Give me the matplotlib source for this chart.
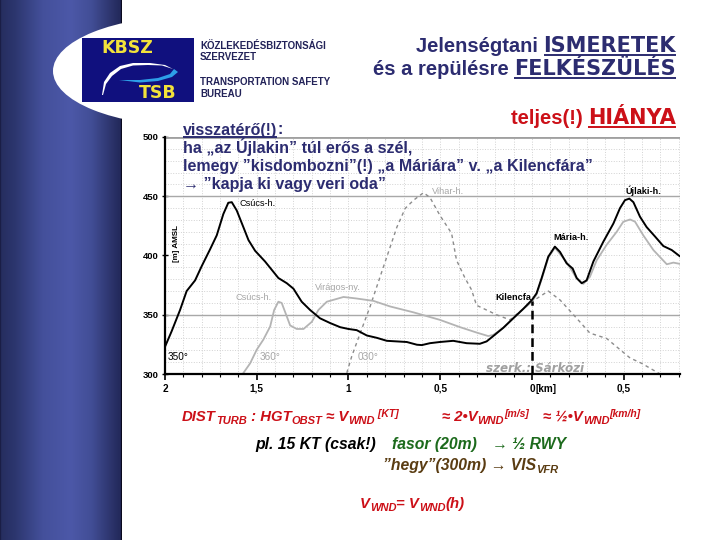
import numpy as np
import matplotlib
matplotlib.use("Agg")
import matplotlib.pyplot as plt
from matplotlib.patches import Ellipse, Rectangle, Polygon
from matplotlib.ticker import MultipleLocator, FixedLocator

# ---- data (distance km: positive left of 0, negative right of 0; height m AMSL)
black_km = [2.0,1.964,1.918,1.882,1.836,1.80,1.755,1.718,1.682,1.655,1.636,1.609,1.573,1.545,1.509,1.455,1.382,1.336,1.30,1.255,1.209,1.155,1.10,1.045,1.0,0.955,0.90,0.845,0.791,0.736,0.682,0.627,0.60,0.556,0.502,0.429,0.356,0.284,0.247,0.211,0.156,0.102,0.047,0,-0.025,-0.053,-0.089,-0.125,-0.153,-0.189,-0.222,-0.244,-0.271,-0.298,-0.335,-0.389,-0.444,-0.48,-0.507,-0.531,-0.553,-0.589,-0.625,-0.671,-0.716,-0.762,-0.804]
black_m = [323,336,354,370,379,391,405,417,435,444.5,445,438,424,413,404,395,381,376.6,372,361,354,347,343,339.5,338,337,332.5,330.5,328,327.5,327,324.7,324.4,326,327,328,326,325.5,327.5,332,339,347,355,362.5,368,381,399,407.5,403,393.4,389,381,376.6,379,395,411.6,427,440,446.7,448,445,432.7,424,416,408,404.6,399.6]
gray_km = [1.573,1.536,1.5,1.464,1.427,1.405,1.382,1.364,1.336,1.318,1.282,1.245,1.2,1.164,1.118,1.027,0.955,0.864,0.773,0.645,0.611,0.502,0.393,0.302,0.238,0.211,0.156,0.102,0.047,0,-0.025,-0.053,-0.089,-0.125,-0.189,-0.244,-0.280,-0.316,-0.353,-0.407,-0.462,-0.498,-0.535,-0.562,-0.607,-0.662,-0.735,-0.771,-0.804]
gray_m = [300.8,309,320.5,329,340,354,361,360,348.5,341,338,338,344,354,361,365,363.7,361.7,357,352,350.5,345.7,339.6,335,332,333,339,347,355,361,367,380,398,406.6,394.5,380.5,376,382,396,409,420,428.5,430.4,428.5,417,404.6,392.6,394,393]
dash_km = [1.009,0.982,0.936,0.882,0.809,0.736,0.691,0.645,0.591,0.556,0.502,0.438,0.411,0.365,0.329,0.302,0.193,0.12,0,-0.089,-0.153,-0.244,-0.316,-0.407,-0.535,-0.598,-0.698]
dash_m = [301,315,334.5,357,390.6,424,439.7,446.7,453,449,434,418.7,396,381,371,358,350,345.7,361,370,362.5,347,334.5,330,313.5,309,300]
kilencfa_km = [0, 0]
kilencfa_m = [300, 362]
y_ticks = [300, 350, 400, 450, 500]
solid_levels = [350, 450]
x_ticks = [2, 1.5, 1, 0.5, 0, -0.5]
x_labels = ["2", "1,5", "1", "0,5", "0", "0,5"]

NAVY = "#2c2c70"; RED = "#cc1018"; GREEN = "#1c6a1c"; BROWN = "#5a3c12"
W, H = 720, 540
fig = plt.figure(figsize=(7.2, 5.4), dpi=100, facecolor="white")
plt.rcParams['font.family'] = ['Liberation Sans', 'DejaVu Sans']

# ---- background layer in pixel coordinates
bg = fig.add_axes([0, 0, 1, 1], zorder=0)
bg.set_xlim(0, W); bg.set_ylim(H, 0); bg.axis("off")
t = np.linspace(0, 1, 122)
stops_x = [0, 0.01, 0.12, 0.35, 0.58, 0.75, 0.98, 0.99, 1]
r = np.interp(t, stops_x, [26, 38, 44, 68, 76, 66, 36, 36, 10])
g = np.interp(t, stops_x, [30, 46, 54, 80, 88, 78, 42, 42, 10])
b = np.interp(t, stops_x, [70, 96, 110, 155, 168, 150, 92, 92, 30])
grad = np.stack([r, g, b], axis=1)[None, :, :] / 255
bg.imshow(grad, extent=(0, 122, H, 0), aspect="auto", zorder=1)
bg.set_xlim(0, W); bg.set_ylim(H, 0)
bg.add_patch(Ellipse((190, 71), 274, 110, fc="white", ec="none", zorder=2))
bg.add_patch(Rectangle((82, 38), 112, 64, fc="#10107e", ec="none", zorder=3))
bg.add_patch(Polygon([(102, 95), (104, 82), (110, 73), (120, 66), (133, 63), (150, 63), (165, 65), (173, 69), (162, 65.5), (148, 65), (133, 65.5), (121, 69), (112, 76), (106, 84), (103, 95)], fc="white", ec="none", zorder=4))
bg.add_patch(Polygon([(119, 80), (140, 80), (158, 78), (170, 74), (174, 69), (178, 72), (172, 77), (158, 81), (140, 82.5)], fc="#2d9fe8", ec="none", zorder=4))
bg.text(127, 48, "KBSZ", color="#f2e23a", fontsize=12.5, fontweight="bold", family="DejaVu Sans", ha="center", va="center", zorder=5)
bg.text(158, 93, "TSB", color="#f2e23a", fontsize=12.5, fontweight="bold", family="DejaVu Sans", ha="center", va="center", zorder=5)
for yy, s in [(46, "KÖZLEKEDÉSBIZTONSÁGI"), (57, "SZERVEZET"), (82, "TRANSPORTATION SAFETY"), (94, "BUREAU")]:
    bg.text(200, yy, s, color="#222258", fontsize=7.0, fontweight="bold", va="center", zorder=5)

# ---- chart
ax = fig.add_axes([165/W, 1-374/H, (680-165)/W, (374-137)/H], zorder=1)
ax.patch.set_alpha(0)
ax.set_xlim(2, -0.807); ax.set_ylim(300, 500)
ax.xaxis.set_major_locator(FixedLocator(x_ticks)); ax.set_xticklabels(x_labels)
ax.xaxis.set_minor_locator(MultipleLocator(0.1))
ax.yaxis.set_major_locator(FixedLocator(y_ticks))
ax.yaxis.set_minor_locator(MultipleLocator(10))
ax.grid(which="minor", color="#d2d2d2", ls=":", lw=0.7)
ax.grid(which="major", color="#d2d2d2", ls=":", lw=0.7)
ax.hlines(solid_levels, 2, -0.807, color="#a8a8a8", lw=1.0)
ax.set_axisbelow(True)
for s in ("top", "right"):
    ax.spines[s].set_visible(False)
ax.spines["left"].set_linewidth(1.6); ax.spines["bottom"].set_linewidth(1.6)
ax.axhline(500, color="#a0a0a0", lw=2)
ax.tick_params(axis="y", which="major", length=5, width=1.0, direction="inout", labelsize=6.8, pad=2)
ax.tick_params(axis="x", which="major", length=4, width=1.2, labelsize=7.2, pad=3)
ax.tick_params(axis="x", which="minor", length=2.5, width=0.8)
ax.tick_params(axis="y", which="minor", length=0)
for lab in ax.get_xticklabels() + ax.get_yticklabels():
    lab.set_fontweight("bold")
ax.plot(dash_km, dash_m, color="#8c8c8c", lw=1.0, ls=(0, (2.5, 2.5)))
ax.plot(gray_km, gray_m, color="#b4b4b4", lw=1.3)
ax.plot(black_km, black_m, color="black", lw=1.4)
ax.plot(kilencfa_km, kilencfa_m, color="black", lw=1.8, ls=(0, (3.5, 2)))

# ---- text layer in pixel coordinates
fg = fig.add_axes([0, 0, 1, 1], zorder=2)
fg.set_xlim(0, W); fg.set_ylim(H, 0); fg.axis("off"); fg.patch.set_alpha(0)
rend = fig.canvas.get_renderer()

def runs(x, y, parts, align="left", **base):
    """Lay text runs along a baseline; parts = (text, options); options: dy, ul."""
    objs = []
    for s, o in parts:
        o = dict(o); dy = o.pop("dy", 0); ul = o.pop("ul", False)
        kw = {**base, **o}
        tx = fg.text(0, y + dy, s, va="baseline", ha="left", **kw)
        objs.append((tx, ul, kw.get("color", "k")))
    ws = [tx.get_window_extent(rend).width for tx, _, _ in objs]
    cur = x - sum(ws) if align == "right" else x
    for (tx, ul, c), w in zip(objs, ws):
        tx.set_x(cur)
        if ul:
            fg.plot([cur, cur + w], [y + 2.5, y + 2.5], color=c, lw=1.4, solid_capstyle="butt")
        cur += w
    return cur

caps = {"ul": True, "family": "DejaVu Sans", "fontsize": 15}
ttl = dict(fontsize=14.5, fontweight="bold")
runs(676, 52, [("Jelenségtani ", {}), ("ISMERETEK", caps)], align="right", color=NAVY, **ttl)
runs(676, 75, [("és a repülésre ", {}), ("FELKÉSZÜLÉS", caps)], align="right", color=NAVY, **ttl)
runs(676, 124, [("teljes(!) ", {}), ("HIÁNYA", caps)], align="right", color=RED, **ttl)

tk = dict(color=NAVY, fontsize=11.55, fontweight="bold")
runs(183, 134.5, [("visszatérő(!)", {"ul": True}), (":", {})], **tk)
runs(183, 153, [("ha „az Újlakin” túl erős a szél,", {})], **tk)
runs(183, 171.5, [("lemegy ”kisdombozni”(!) „a Máriára” v. „a Kilencfára”", {})], **tk)
runs(183, 189, [("→ ”kapja ki vagy veri oda”", {})], **tk)

lab = dict(fontsize=6.6, va="center", ha="left")
g1 = "#a6a6a6"
fg.text(239, 203, "Csúcs-h.", color="black", **lab)
fg.text(235, 298, "Csúcs-h.", color=g1, **lab)
fg.text(315, 288, "Virágos-ny.", color=g1, **lab)
fg.text(432, 191, "Vihar-h.", color=g1, **lab)
fg.text(626, 191, "Újlaki-h.", color="black", fontweight="bold", **lab)
fg.text(553, 238, "Mária-h.", color="black", fontweight="bold", **lab)
fg.text(495, 298, "Kilencfa", color="black", fontweight="bold", **lab)
fg.text(168, 357, "350°", color="black", fontsize=7.2, va="center")
fg.text(260, 357, "360°", color=g1, fontsize=7.2, va="center")
fg.text(358, 357, "030°", color=g1, fontsize=7.2, va="center")
fg.text(177, 243, "[m] AMSL", color="black", fontsize=5.8, fontweight="bold", rotation=90, ha="center", va="center")
fg.text(486, 368, "szerk.: Sárközi", color="#a0a0a0", fontsize=8.6, fontweight="bold", style="italic", family="DejaVu Sans", va="center")
fg.text(536, 388.5, "[km]", color="black", fontsize=7.2, fontweight="bold", va="center")

bi = dict(fontweight="bold", style="italic", fontsize=10.7)
bi2 = dict(fontweight="bold", style="italic", fontsize=11.3)
sub = dict(fontsize=8, dy=3); sup = dict(fontsize=7.5, dy=-4)
runs(182, 421, [("DIST", {}), ("TURB", sub), (" : HGT", {}), ("OBST", sub), (" ≈ V", {}), ("WND", sub), (" [KT]", sup)], color=RED, **bi)
runs(442, 421, [("≈ 2•V", {}), ("WND", sub), ("[m/s]", sup)], color=RED, **bi)
runs(543, 421, [("≈ ½•V", {}), ("WND", sub), ("[km/h]", sup)], color=RED, **bi)
runs(255, 449, [("pl. 15 KT (csak!)", {})], color="black", **bi2)
runs(392, 449, [("fasor (20m)", {})], color=GREEN, **bi2)
runs(492, 449, [("→ ½ RWY", {})], color=GREEN, **bi2)
runs(383, 470, [("”hegy”(300m) → VIS", {}), ("VFR", sub)], color=BROWN, **bi2)
runs(360, 508, [("V", {}), ("WND", sub), ("= V", {}), ("WND", sub), ("(h)", {})], color=RED, **bi)

fig.savefig("out.png", dpi=100)
